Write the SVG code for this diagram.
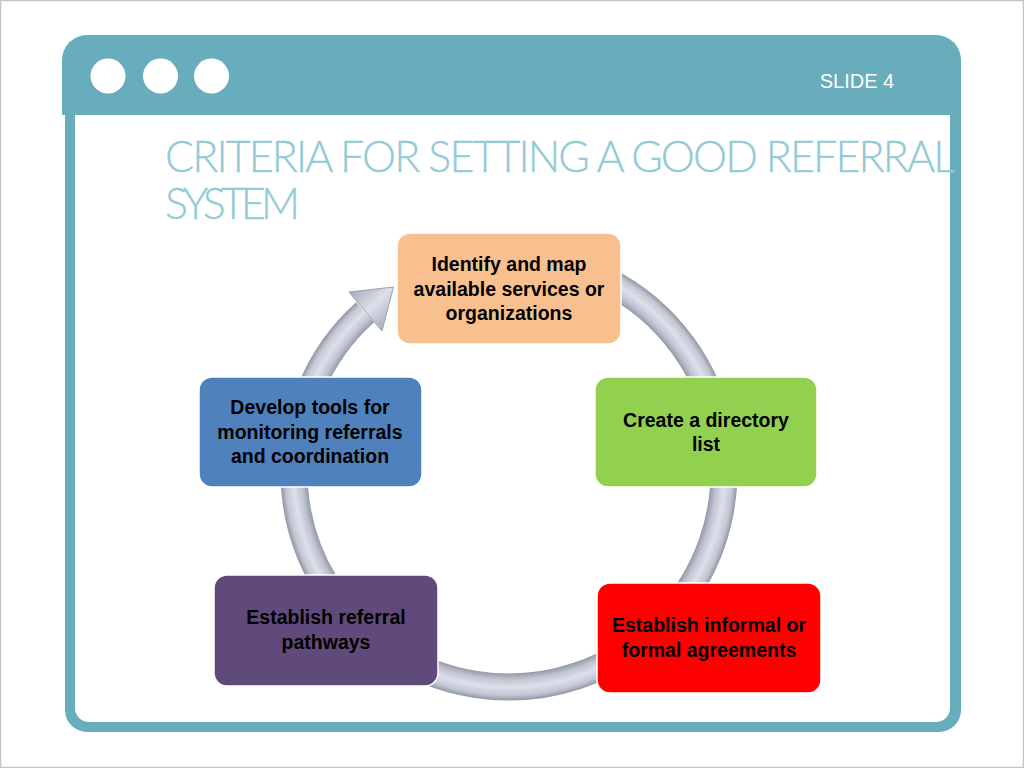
<svg xmlns="http://www.w3.org/2000/svg" width="1024" height="768" viewBox="0 0 1024 768">
  <style>
    .lbl { font-family: "Liberation Sans", Arial, sans-serif; font-weight: bold; font-size: 19.5px; fill: #000; text-anchor: middle; }
    .box { stroke: #ffffff; stroke-width: 1.5; }
    .title { font-family: Lato, "Open Sans", sans-serif; font-weight: 300; font-size: 43px; fill: #92cbd6; stroke: #92cbd6; stroke-width: 0.3; }
  </style>
  <defs>
    <radialGradient id="tube" gradientUnits="userSpaceOnUse" cx="509" cy="472" r="229">
      <stop offset="0.875" stop-color="#8c91a1"/>
      <stop offset="0.905" stop-color="#bfc3d0"/>
      <stop offset="0.94" stop-color="#dde0ea"/>
      <stop offset="0.975" stop-color="#c3c7d3"/>
      <stop offset="1" stop-color="#8c91a1"/>
    </radialGradient>
    <linearGradient id="head" gradientUnits="userSpaceOnUse" x1="347" y1="292" x2="383.5" y2="332.5">
      <stop offset="0" stop-color="#a3a8b6"/>
      <stop offset="0.5" stop-color="#dde0ea"/>
      <stop offset="1" stop-color="#a3a8b6"/>
    </linearGradient>
  </defs>

  <rect x="0.5" y="0.5" width="1023" height="767" fill="#ffffff" stroke="#c4c4c4" stroke-width="1.5"/>

  <g id="frame">
    <rect x="65" y="60" width="896" height="672" rx="22" fill="#67adbb"/>
    <path d="M62 115 V60 A25 25 0 0 1 87 35 H936 A25 25 0 0 1 961 60 V115 Z" fill="#67adbb"/>
    <path d="M75 115 H950 V708 A14 14 0 0 1 936 722 H89 A14 14 0 0 1 75 708 Z" fill="#ffffff"/>
    <circle cx="108" cy="76" r="17.5" fill="#ffffff"/>
    <circle cx="160.5" cy="76" r="17.5" fill="#ffffff"/>
    <circle cx="211.5" cy="76" r="17.5" fill="#ffffff"/>
    <text x="857" y="88" font-family="'Liberation Sans', Arial, sans-serif" font-size="20" fill="#ffffff" text-anchor="middle">SLIDE 4</text>
  </g>

  <g id="title">
    <text class="title" x="165" y="172" textLength="790">CRITERIA FOR SETTING A GOOD REFERRAL</text>
    <text class="title" x="165" y="219" textLength="135">SYSTEM</text>
  </g>

  <g id="connectors">
    <path d="M527.7 257.8 A215 215 0 1 1 365.1 312.2" fill="none" stroke="url(#tube)" stroke-width="27"/>
    <polygon points="349,292 393.5,287 382,331" fill="url(#head)" stroke="#9ca1b0" stroke-width="1"/>
  </g>

  <g id="node-identify">
    <rect class="box" x="397" y="233" width="224" height="111" rx="13" fill="#f9c08f"/>
    <text class="lbl" x="509" y="271">Identify and map</text>
    <text class="lbl" x="509" y="296">available services or</text>
    <text class="lbl" x="509" y="320">organizations</text>
  </g>

  <g id="node-directory">
    <rect class="box" x="595" y="377" width="222" height="110" rx="13" fill="#92d050"/>
    <text class="lbl" x="706" y="427">Create a directory</text>
    <text class="lbl" x="706" y="451">list</text>
  </g>

  <g id="node-agreements">
    <rect class="box" x="597" y="583" width="224" height="110" rx="13" fill="#ff0000"/>
    <text class="lbl" x="709" y="632">Establish informal or</text>
    <text class="lbl" x="709" y="657">formal agreements</text>
  </g>

  <g id="node-pathways">
    <rect class="box" x="214" y="575" width="224" height="111" rx="13" fill="#604a7b"/>
    <text class="lbl" x="326" y="624">Establish referral</text>
    <text class="lbl" x="326" y="649">pathways</text>
  </g>

  <g id="node-tools">
    <rect class="box" x="199" y="377" width="223" height="110" rx="13" fill="#4f81bd"/>
    <text class="lbl" x="310" y="414">Develop tools for</text>
    <text class="lbl" x="310" y="439">monitoring referrals</text>
    <text class="lbl" x="310" y="463">and coordination</text>
  </g>
</svg>
